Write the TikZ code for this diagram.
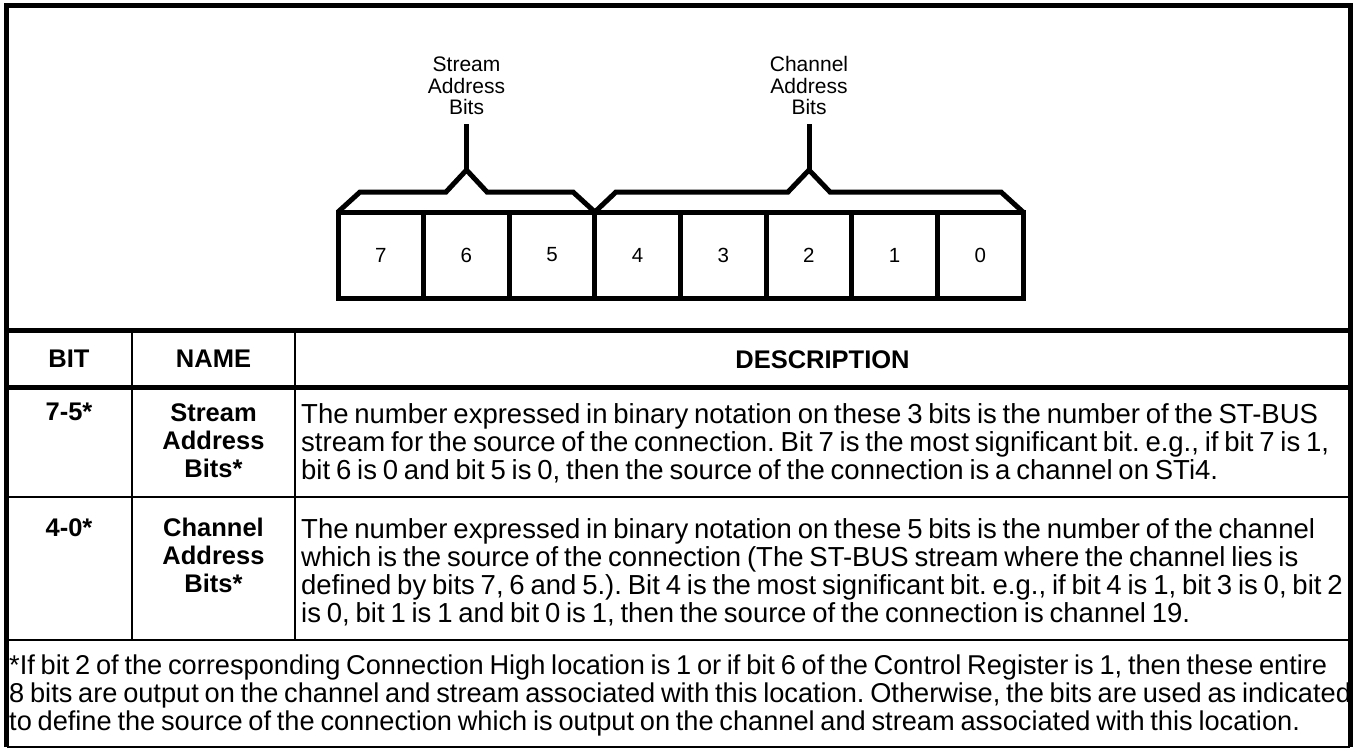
\documentclass[tikz,border=0pt]{standalone}
\usepackage{fontspec}
\setmainfont{Liberation Sans}
\frenchspacing
\newcommand\tightspaces{\spaceskip=0.212em\relax}
\begin{document}
\begin{tikzpicture}[x=1pt,y=-1pt]
    \useasboundingbox (0,0) rectangle (1354,749);
    \tikzset{bitbox/.style={draw,line width=5pt,minimum width=85.625pt,minimum height=86pt,inner sep=0,outer sep=0,font=\fontsize{20.5}{21.5}\selectfont},
        heavy rule/.style={line width=5pt},
        light rule/.style={line width=2pt},
        field tag/.style={anchor=south,inner sep=0,align=center,font=\fontsize{21}{21.5}\selectfont},
        head cell/.style={anchor=north,inner sep=0,align=center,font=\fontsize{25.5}{28}\selectfont\bfseries},
        desc cell/.style={anchor=north west,inner sep=0,align=left,font=\fontsize{27.5}{28}\selectfont\tightspaces}}

    % frame and table rules
    \draw[light rule] (6.5,746.5) -- (1350,746.5);
    \draw[heavy rule] (6.5,746.5) -- (6.5,5.5) -- (1350,5.5) -- (1350,746.5);
    \draw[heavy rule] (6.5,330) -- (1350,330);
    \draw[heavy rule] (6.5,387) -- (1350,387);
    \draw[light rule] (6.5,497) -- (1350,497);
    \draw[light rule] (6.5,640) -- (1350,640);
    \draw[light rule] (132,330) -- (132,640);
    \draw[light rule] (295,330) -- (295,640);

    % register bits
    \foreach \b [count=\k from 0] in {7,6,5,4,3,2,1,0}
        \node[bitbox] (b\b) at (338+85.625*\k+42.8125,255) {\b};

    \coordinate (s1) at (360,192);
    \coordinate (s2) at (446,192);
    \coordinate (speak) at (466.5,170);
    \coordinate (s3) at (487,192);
    \coordinate (s4) at (573,192);
    \coordinate (c1) at (616,192);
    \coordinate (c2) at (788,192);
    \coordinate (cpeak) at (809,170);
    \coordinate (c3) at (830,192);
    \coordinate (c4) at (1001,192);

    \node[field tag] (stream) at (466.5,115) {Stream\\Address\\Bits};
    \node[field tag] (channel) at (809,115) {Channel\\Address\\Bits};

    \draw[heavy rule] (b7.north west) -- (s1) -- (s2) -- (speak) -- (s3) -- (s4) -- (b5.north east);
    \draw[heavy rule] (b4.north west) -- (c1) -- (c2) -- (cpeak) -- (c3) -- (c4) -- (b0.north east);
    \draw[heavy rule,shorten >=9pt] (speak) -- (stream.south);
    \draw[heavy rule,shorten >=9pt] (cpeak) -- (channel.south);

    % table text
    \node[head cell] (hbit) at (69,350) {BIT};
    \node[head cell] (hname) at (213.5,350) {NAME};
    \node[head cell] (hdesc) at (822.5,350) {DESCRIPTION};

    \node[head cell] (bit1) at (69,403) {7-5*};
    \node[head cell] (name1) at (213.5,403) {Stream\\Address\\Bits*};
    \node[desc cell] (desc1) at (301,403) {The number expressed in binary notation on these 3 bits is the number of the ST-BUS\\stream for the source of the connection. Bit 7 is the most significant bit. e.g., if bit 7 is 1,\\bit 6 is 0 and bit 5 is 0, then the source of the connection is a channel on STi4.};

    \node[head cell] (bit2) at (69,518) {4-0*};
    \node[head cell] (name2) at (213.5,518) {Channel\\Address\\Bits*};
    \node[desc cell] (desc2) at (301,518) {The number expressed in binary notation on these 5 bits is the number of the channel\\which is the source of the connection (The ST-BUS stream where the channel lies is\\defined by bits 7, 6 and 5.). Bit 4 is the most significant bit. e.g., if bit 4 is 1, bit 3 is 0, bit 2\\is 0, bit 1 is 1 and bit 0 is 1, then the source of the connection is channel 19.};

    \node[desc cell,font=\fontsize{27.2}{28}\selectfont\tightspaces] (note) at (9,655) {*If bit 2 of the corresponding Connection High location is 1 or if bit 6 of the Control Register is 1, then these entire\\8 bits are output on the channel and stream associated with this location. Otherwise, the bits are used as indicated\\to define the source of the connection which is output on the channel and stream associated with this location.};
\end{tikzpicture}
\end{document}
